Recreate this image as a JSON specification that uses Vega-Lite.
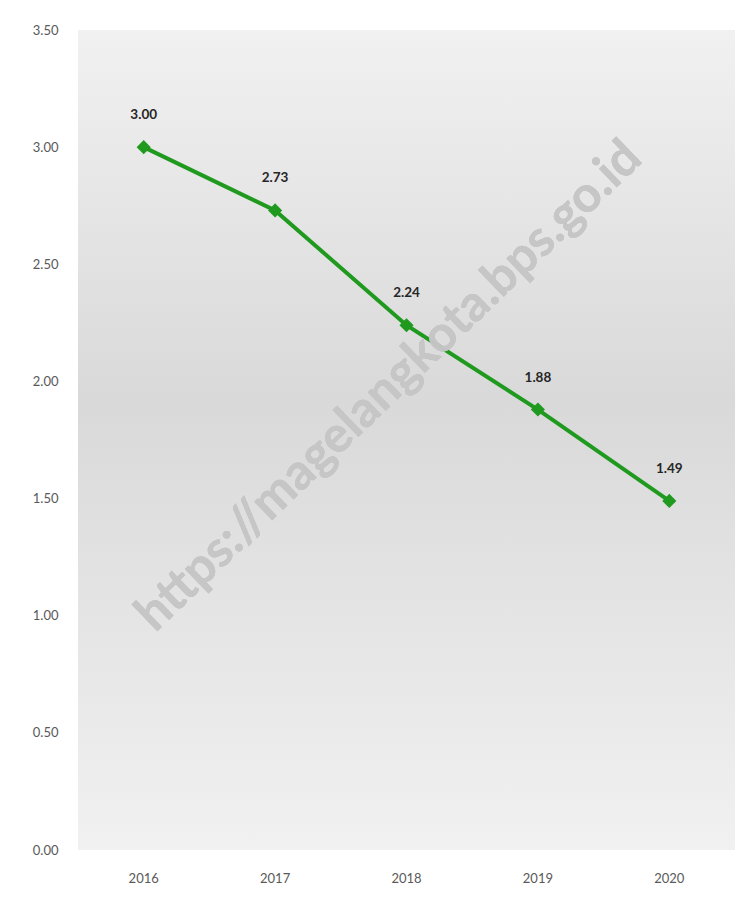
{
  "$schema": "https://vega.github.io/schema/vega-lite/v6.json",
  "autosize": {"type": "none"},
  "width": 657,
  "height": 820,
  "padding": {"left": 78, "top": 30, "right": 19, "bottom": 51},
  "background": "white",
  "config": {
    "view": {
      "stroke": null,
      "fill": {
        "gradient": "linear",
        "x1": 0, "y1": 0, "x2": 0, "y2": 1,
        "stops": [
          {"offset": 0, "color": "#f1f1f1"},
          {"offset": 0.45, "color": "#d9d9d9"},
          {"offset": 1, "color": "#f1f1f1"}
        ]
      }
    },
    "font": "Lato"
  },
  "data": {
    "values": [
      {"year": "2016", "value": 3.00},
      {"year": "2017", "value": 2.73},
      {"year": "2018", "value": 2.24},
      {"year": "2019", "value": 1.88},
      {"year": "2020", "value": 1.49}
    ]
  },
  "encoding": {
    "x": {
      "field": "year", "type": "ordinal",
      "scale": {"type": "band", "paddingInner": 0, "paddingOuter": 0},
      "axis": {"title": null, "labelAngle": 0, "domain": false, "ticks": false, "labelPadding": 22, "labelColor": "#595959", "labelFontSize": 13}
    },
    "y": {
      "field": "value", "type": "quantitative",
      "scale": {"domain": [0, 3.5], "nice": false, "zero": true},
      "axis": {"title": null, "values": [0, 0.5, 1, 1.5, 2, 2.5, 3, 3.5], "format": ".2f", "domain": false, "ticks": false, "grid": false, "labelPadding": 20, "labelColor": "#595959", "labelFontSize": 13}
    }
  },
  "layer": [
    {
      "mark": {"type": "line", "color": "#1f9a1f", "strokeWidth": 4}
    },
    {
      "mark": {"type": "point", "shape": "diamond", "filled": true, "color": "#1f9a1f", "size": 200, "opacity": 1}
    },
    {
      "mark": {"type": "text", "dy": -32, "fontWeight": "bold", "fontSize": 13.5, "color": "#262626"},
      "encoding": {"text": {"field": "value", "type": "quantitative", "format": ".2f"}}
    },
    {
      "mark": {"type": "text", "text": "https://magelangkota.bps.go.id", "angle": -44, "fontSize": 50, "fontWeight": "bold", "color": "#c6c6c6", "opacity": 0.55, "dx": -24},
      "encoding": {
        "x": {"datum": "2018"},
        "y": {"datum": 2.05}
      }
    }
  ]
}
